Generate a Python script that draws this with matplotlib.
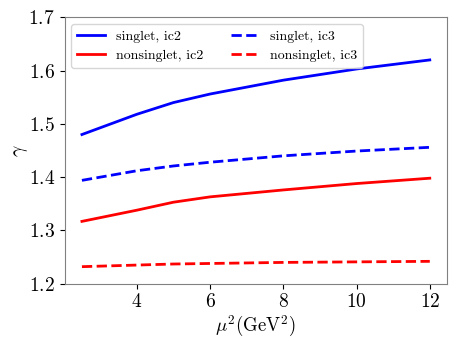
import matplotlib
matplotlib.use("Agg")
import matplotlib.pyplot as plt

plt.rcParams['font.family'] = 'serif'
plt.rcParams['font.serif'] = ['cmr10']
plt.rcParams['mathtext.fontset'] = 'cm'
plt.rcParams['axes.formatter.use_mathtext'] = True

mu2 = [2.5, 4, 5, 6, 8, 10, 12]
singlet_ic2 = [1.480, 1.518, 1.540, 1.556, 1.582, 1.603, 1.620]
singlet_ic3 = [1.394, 1.412, 1.421, 1.428, 1.440, 1.449, 1.456]
nonsinglet_ic2 = [1.317, 1.338, 1.353, 1.363, 1.376, 1.388, 1.398]
nonsinglet_ic3 = [1.232, 1.235, 1.237, 1.238, 1.240, 1.241, 1.242]

fig, ax = plt.subplots(figsize=(4.61, 3.46), dpi=100)
ax.plot(mu2, singlet_ic2, color='blue', lw=2, label='singlet, ic2')
ax.plot(mu2, nonsinglet_ic2, color='red', lw=2, label='nonsinglet, ic2')
ax.plot(mu2, singlet_ic3, color='blue', lw=2, ls='--', label='singlet, ic3')
ax.plot(mu2, nonsinglet_ic3, color='red', lw=2, ls='--', label='nonsinglet, ic3')

ax.set_ylim(1.2, 1.7)
ax.set_yticks([1.2, 1.3, 1.4, 1.5, 1.6, 1.7])
ax.set_xticks([4, 6, 8, 10, 12])
ax.tick_params(labelsize=14)
for s in ax.spines.values():
    s.set_color('gray')
ax.set_xlabel(r'$\mu^2(\mathrm{GeV}^2)$', fontsize=13.5, labelpad=2)
ax.set_ylabel(r'$\gamma$', fontsize=14)
ax.yaxis.set_label_coords(-0.09, 0.5)
ax.legend(loc='upper left', ncol=2, fontsize=10)

fig.subplots_adjust(left=0.14, right=0.97, top=0.95, bottom=0.18)
fig.savefig('out.png')
